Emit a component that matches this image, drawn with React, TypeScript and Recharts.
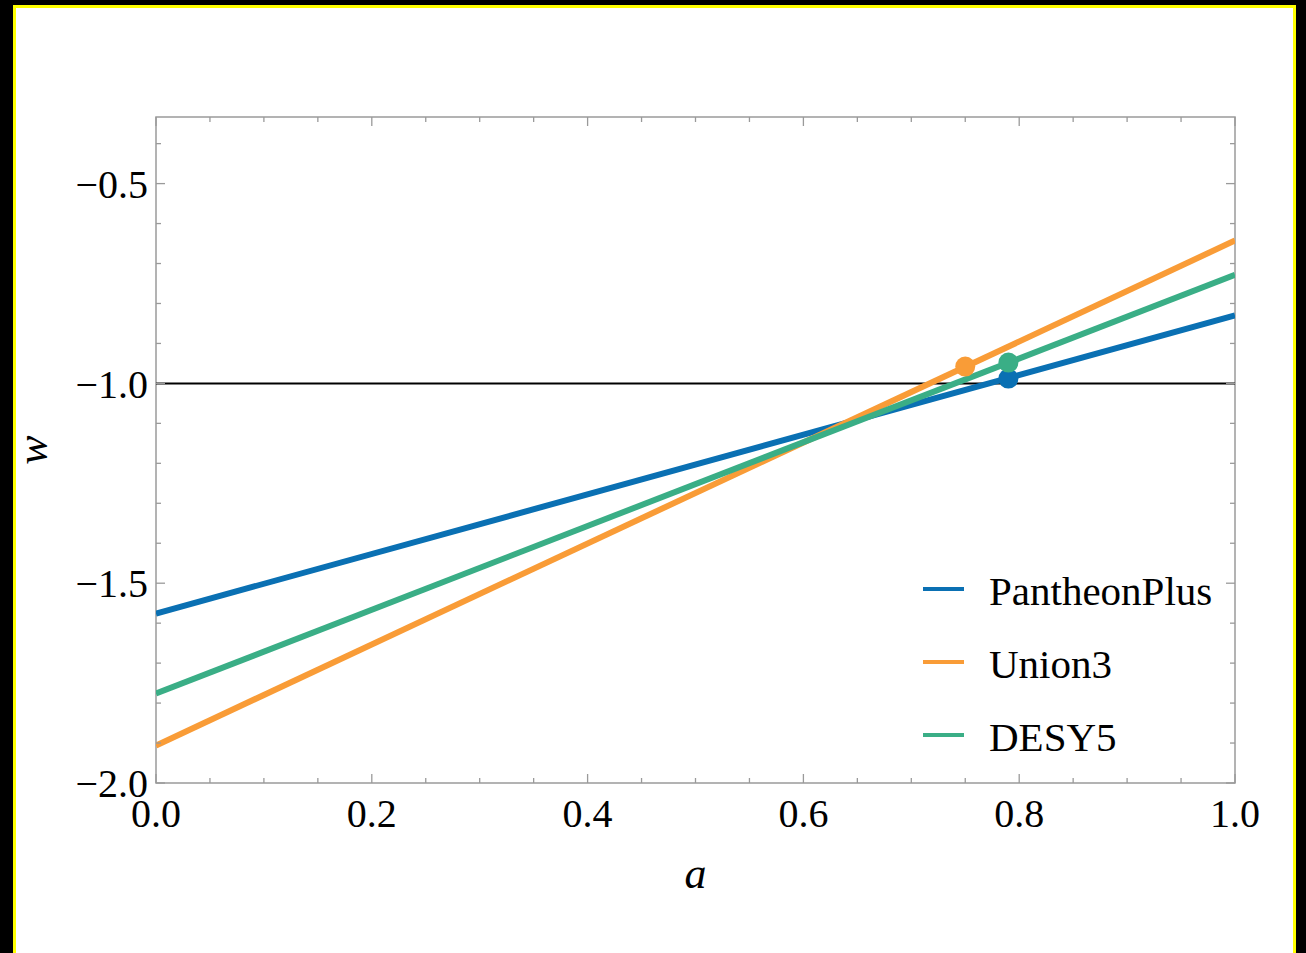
import { ComposedChart, Line, Scatter, XAxis, YAxis, ReferenceLine, ReferenceArea, Legend, Label } from "recharts"

// scale factor a at both ends of the plotted range
const aEnds = [0, 1]
// w(a) of each fit at a = 0 and a = 1
const pantheonPlusW = [-1.576, -0.83]
const union3W = [-1.906, -0.6425]
const desy5W = [-1.776, -0.728]

const seriesNames = ["PantheonPlus", "Union3", "DESY5"]
const seriesColors = ["#0a70b3", "#f99c37", "#3aae86"]

// pivot point marked on each line
const pivotA = [0.79, 0.75, 0.79]
const pivotW = [-0.988, -0.958, -0.948]

const xMajorTicks = [0, 0.2, 0.4, 0.6, 0.8, 1.0]
const xMinorTicks = [0.05, 0.1, 0.15, 0.25, 0.3, 0.35, 0.45, 0.5, 0.55, 0.65, 0.7, 0.75, 0.85, 0.9, 0.95]
const yMajorTicks = [-2.0, -1.5, -1.0, -0.5]
const yMinorTicks = [-1.9, -1.8, -1.7, -1.6, -1.4, -1.3, -1.2, -1.1, -0.9, -0.8, -0.7, -0.6, -0.4]

const X_DOMAIN = [0, 1]
const Y_DOMAIN = [-2, -1 / 3]

const WIDTH = 1306
const HEIGHT = 953
const MARGIN = { top: 117, right: 71, bottom: 0, left: 0 }
const PLOT_TOP = MARGIN.top
const PLOT_RIGHT = WIDTH - MARGIN.right
const X_TICK_MARGIN = 16
const Y_TICK_MARGIN = 8
const MAJOR_LEN = 9
const MINOR_LEN = 5

const SERIF = "'Liberation Serif', 'Times New Roman', serif"
const FRAME = "#9a9a9a"

const toPoints = (ws: number[]) => aEnds.map((a, i) => ({ a, w: ws[i] }))
const lines = [pantheonPlusW, union3W, desy5W].map(toPoints)
const pivots = pivotA.map((a, i) => [{ a, w: pivotW[i] }])

const xTicks = [...xMajorTicks, ...xMinorTicks].sort((p, q) => p - q)
const yTicks = [...yMajorTicks, ...yMinorTicks].sort((p, q) => p - q)

const fmtY = (v: number) => (v < 0 ? "\u2212" + Math.abs(v).toFixed(1) : v.toFixed(1))
const fmtX = (v: number) => v.toFixed(1)

// bottom axis tick: inward marks on bottom and top frame edges, label on majors
function XTick(props: any) {
  const { x, y, payload } = props
  const v = payload.value
  const major = xMajorTicks.includes(v)
  const len = major ? MAJOR_LEN : MINOR_LEN
  const yb = y - X_TICK_MARGIN
  return (
    <g>
      <line x1={x} x2={x} y1={yb} y2={yb - len} stroke={FRAME} strokeWidth={1.3} />
      <line x1={x} x2={x} y1={PLOT_TOP} y2={PLOT_TOP + len} stroke={FRAME} strokeWidth={1.3} />
      {major && (
        <text x={x} y={y} dy="0.71em" textAnchor="middle" fontFamily={SERIF} fontSize={40} fill="#000">
          {fmtX(v)}
        </text>
      )}
    </g>
  )
}

// left axis tick: inward marks on left and right frame edges, label on majors
function YTick(props: any) {
  const { x, y, payload } = props
  const v = payload.value
  const major = yMajorTicks.includes(v)
  const len = major ? MAJOR_LEN : MINOR_LEN
  const xl = x + Y_TICK_MARGIN
  return (
    <g>
      <line x1={xl} x2={xl + len} y1={y} y2={y} stroke={FRAME} strokeWidth={1.3} />
      <line x1={PLOT_RIGHT} x2={PLOT_RIGHT - len} y1={y} y2={y} stroke={FRAME} strokeWidth={1.3} />
      {major && (
        <text x={x} y={y} dy="0.355em" textAnchor="end" fontFamily={SERIF} fontSize={40} fill="#000">
          {fmtY(v)}
        </text>
      )}
    </g>
  )
}

function FitLegend(props: any) {
  const items = (props.payload ?? []).filter((p: any) => p.type !== "none")
  return (
    <div style={{ fontFamily: SERIF, fontSize: 41, color: "#000" }}>
      {items.map((item: any) => (
        <div key={item.value} style={{ display: "flex", alignItems: "center", height: 73 }}>
          <span style={{ width: 41, height: 4.5, background: item.color, marginRight: 25, marginTop: -3 }} />
          <span>{item.value}</span>
        </div>
      ))}
    </div>
  )
}

function WTitle(props: any) {
  const vb = props.viewBox ?? { x: 0, y: 117, width: 156, height: 666 }
  const x = vb.x + 47
  const y = vb.y + vb.height / 2
  return (
    <text
      x={x}
      y={y}
      transform={`rotate(-90 ${x} ${y})`}
      textAnchor="middle"
      fontFamily={SERIF}
      fontStyle="italic"
      fontSize={44}
      fill="#000"
    >
      w
    </text>
  )
}

export default function App() {
  return (
    <div style={{ position: "absolute", left: 0, top: 0, width: WIDTH, height: HEIGHT, background: "#000", overflow: "hidden" }}>
      <div
        style={{
          position: "absolute",
          left: 13,
          top: 5,
          width: 1277,
          height: 1000,
          border: "3px solid #ffff00",
          background: "#fff",
        }}
      />
      <div style={{ position: "absolute", left: 0, top: 0 }}>
        <ComposedChart width={WIDTH} height={HEIGHT} margin={MARGIN}>
          <XAxis
            xAxisId="x"
            dataKey="a"
            type="number"
            orientation="bottom"
            height={170}
            domain={X_DOMAIN}
            allowDataOverflow
            ticks={xTicks}
            interval={0}
            tick={<XTick />}
            tickLine={false}
            axisLine={false}
            tickSize={0}
            tickMargin={X_TICK_MARGIN}
          >
            <Label value="a" position="insideBottom" offset={65} fontFamily={SERIF} fontStyle="italic" fontSize={44} fill="#000" />
          </XAxis>
          <YAxis
            yAxisId="y"
            dataKey="w"
            type="number"
            orientation="left"
            width={156}
            domain={Y_DOMAIN}
            allowDataOverflow
            ticks={yTicks}
            interval={0}
            tick={<YTick />}
            tickLine={false}
            axisLine={false}
            tickSize={0}
            tickMargin={Y_TICK_MARGIN}
          >
            <Label content={<WTitle />} />
          </YAxis>

          {/* plot frame */}
          <ReferenceArea
            xAxisId="x"
            yAxisId="y"
            x1={X_DOMAIN[0]}
            x2={X_DOMAIN[1]}
            y1={Y_DOMAIN[0]}
            y2={Y_DOMAIN[1]}
            fill="none"
            fillOpacity={0}
            stroke={FRAME}
            strokeWidth={1.5}
          />
          <ReferenceLine xAxisId="x" yAxisId="y" y={-1} stroke="#000" strokeWidth={2} />

          {lines.map((data, i) => (
            <Line
              key={seriesNames[i]}
              xAxisId="x"
              yAxisId="y"
              data={data}
              dataKey="w"
              name={seriesNames[i]}
              stroke={seriesColors[i]}
              strokeWidth={6}
              dot={false}
              activeDot={false}
              isAnimationActive={false}
            />
          ))}
          {pivots.map((data, i) => (
            <Scatter
              key={"pivot-" + seriesNames[i]}
              xAxisId="x"
              yAxisId="y"
              data={data}
              dataKey="w"
              legendType="none"
              fill={seriesColors[i]}
              isAnimationActive={false}
              shape={(p: any) => <circle cx={p.cx} cy={p.cy} r={10} fill={seriesColors[i]} />}
            />
          ))}

          <Legend
            layout="vertical"
            align="center"
            verticalAlign="middle"
            itemSorter={(item: any) => seriesNames.indexOf(item.value)}
            content={<FitLegend />}
            wrapperStyle={{ left: 923, top: 554, width: 320 }}
          />
        </ComposedChart>
      </div>
    </div>
  )
}
